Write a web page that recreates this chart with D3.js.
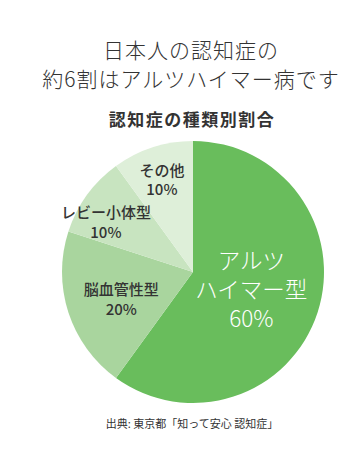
<!DOCTYPE html>
<html><head><meta charset="utf-8">
<script src="https://cdn.jsdelivr.net/npm/d3@7"></script>
<style>
html,body{margin:0;padding:0;background:#fff;}
svg{display:block;}
</style></head>
<body>
<svg id="c" width="358" height="453"></svg>
<script>
const titleLines = ["日本人の認知症の", "約6割はアルツハイマー病です"];
const subtitle = "認知症の種類別割合";
const categories = [["アルツ","ハイマー型"], ["脳血管性型"], ["レビー小体型"], ["その他"]];
const values = [60, 20, 10, 10];
const colors = ["#69bd5c", "#a9d59e", "#c8e4c0", "#deefd9"];
const source = "出典: 東京都「知って安心 認知症」";

const svg = d3.select("#c");
const cx = 193, cy = 272, R = 131;

svg.append("g").selectAll("text").data(titleLines).join("text")
  .attr("x", 191).attr("y", (d,i) => 58 + i*29)
  .attr("text-anchor","middle")
  .attr("font-family","'Noto Sans CJK JP'")
  .attr("font-weight", 300)
  .attr("font-size", 21)
  .attr("letter-spacing", 1)
  .attr("fill","#333")
  .text(d => d);

svg.append("text").attr("x", 192).attr("y", 126)
  .attr("text-anchor","middle")
  .attr("font-family","'Noto Sans CJK JP'")
  .attr("font-weight", 700)
  .attr("font-size", 17)
  .attr("letter-spacing", 1.5)
  .attr("fill","#333")
  .text(subtitle);

const pie = d3.pie().sort(null).value(d => d)(values);
const arc = d3.arc().innerRadius(0).outerRadius(R);
const g = svg.append("g").attr("transform", `translate(${cx},${cy})`);
g.selectAll("path").data(pie).join("path")
  .attr("d", arc).attr("fill", (d,i) => colors[i]);

const labelR = [61, 77, 100, 97];
const angAdj = [-1, -3.3, -6.6, -0.7];
const fs = [22.5, 15, 15, 15];
const lh = [29, 20, 20, 19];
pie.forEach((p, i) => {
  const a = (p.startAngle + p.endAngle)/2 + angAdj[i] * Math.PI/180;
  const x = Math.sin(a) * labelR[i], y = -Math.cos(a) * labelR[i];
  const lines = categories[i].concat([values[i] + "%"]);
  const n = lines.length;
  const t = g.append("text")
    .attr("text-anchor","middle")
    .attr("font-family","'Noto Sans CJK JP'")
    .attr("font-weight", i === 0 ? 300 : 500)
    .attr("font-size", fs[i])
    .attr("fill", i === 0 ? "#fff" : "#333");
  lines.forEach((l, j) => {
    t.append("tspan").attr("x", x)
      .attr("y", y + (j - (n-1)/2) * lh[i] + fs[i]*0.36)
      .text(l);
  });
});

svg.append("text").attr("x", 192).attr("y", 428)
  .attr("text-anchor","middle")
  .attr("font-family","'Noto Sans CJK JP'")
  .attr("font-size", 11)
  .attr("fill","#333")
  .text(source);
</script>
</body></html>
